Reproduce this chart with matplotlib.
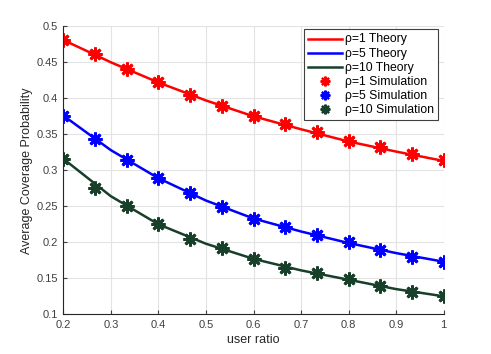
import numpy as np
import matplotlib
matplotlib.use('Agg')
import matplotlib.pyplot as plt

plt.rcParams['font.family'] = ['Liberation Sans', 'DejaVu Sans']

# theory curves, sampled every 0.1
x_theory = [0.2, 0.3, 0.4, 0.5, 0.6, 0.7, 0.8, 0.9, 1.0]
theory_rho1 = [0.481, 0.450, 0.422, 0.397, 0.375, 0.357, 0.340, 0.326, 0.313]
theory_rho5 = [0.376, 0.328, 0.289, 0.258, 0.233, 0.215, 0.199, 0.185, 0.173]
theory_rho10 = [0.316, 0.264, 0.225, 0.198, 0.177, 0.161, 0.148, 0.135, 0.125]

# simulation points
x_sim = [0.2, 0.2667, 0.3333, 0.4, 0.4667, 0.5333, 0.6, 0.6667, 0.7333, 0.8, 0.8667, 0.9333, 1.0]
sim_rho1 = [0.481, 0.461, 0.441, 0.422, 0.405, 0.389, 0.375, 0.364, 0.353, 0.341, 0.333, 0.322, 0.314]
sim_rho5 = [0.376, 0.344, 0.315, 0.289, 0.269, 0.249, 0.233, 0.221, 0.210, 0.200, 0.190, 0.180, 0.173]
sim_rho10 = [0.316, 0.276, 0.251, 0.225, 0.204, 0.192, 0.177, 0.165, 0.158, 0.149, 0.139, 0.131, 0.125]

green = '#173f2a'
star = (8, 2, 0)

fig = plt.figure(figsize=(4.91, 3.54), dpi=100)
ax = fig.add_axes([63.3/491, 1-314.3/354, (443.7-63.3)/491, (314.3-26.3)/354])

ax.plot(x_theory, theory_rho1, color='red', lw=1.8, label='ρ=1 Theory')
ax.plot(x_theory, theory_rho5, color='blue', lw=1.8, label='ρ=5 Theory')
ax.plot(x_theory, theory_rho10, color=green, lw=1.8, label='ρ=10 Theory')
ax.plot(x_sim, sim_rho1, ls='none', marker=star, ms=10, mew=2, color='red', label='ρ=1 Simulation')
ax.plot(x_sim, sim_rho5, ls='none', marker=star, ms=10, mew=2, color='blue', label='ρ=5 Simulation')
ax.plot(x_sim, sim_rho10, ls='none', marker=star, ms=10, mew=2, color=green, label='ρ=10 Simulation')

ax.set_xlim(0.2, 1.0)
ax.set_ylim(0.1, 0.5)
ax.set_xticks([0.2, 0.3, 0.4, 0.5, 0.6, 0.7, 0.8, 0.9, 1.0])
ax.set_xticklabels(['0.2', '0.3', '0.4', '0.5', '0.6', '0.7', '0.8', '0.9', '1'])
ax.set_yticks([0.1, 0.15, 0.2, 0.25, 0.3, 0.35, 0.4, 0.45, 0.5])
ax.set_yticklabels(['0.1', '0.15', '0.2', '0.25', '0.3', '0.35', '0.4', '0.45', '0.5'])
ax.grid(True, color='#e3e3e3', lw=0.8)
ax.set_axisbelow(True)
ax.spines['top'].set_visible(False)
ax.spines['right'].set_visible(False)
ax.spines['left'].set_color('#262626')
ax.spines['bottom'].set_color('#262626')
ax.tick_params(direction='in', labelsize=8, colors='#404040', length=3, pad=4)

ax.set_xlabel('user ratio', fontsize=9, color='#262626', labelpad=3)
ax.set_ylabel('Average Coverage Probability', fontsize=9, color='#262626', labelpad=2)

leg = ax.legend(loc='upper right', bbox_to_anchor=(0.985, 0.99), fontsize=8.8, fancybox=False,
                framealpha=1, edgecolor='#404040', borderpad=0.35, labelspacing=0.17,
                handlelength=2.8, handleheight=0.5, handletextpad=0.2, borderaxespad=0,
                markerscale=0.7)
leg.get_frame().set_linewidth(0.8)
for h in leg.legend_handles[3:]:
    h.set_markeredgewidth(1.6)

fig.savefig('out.png', dpi=100)
